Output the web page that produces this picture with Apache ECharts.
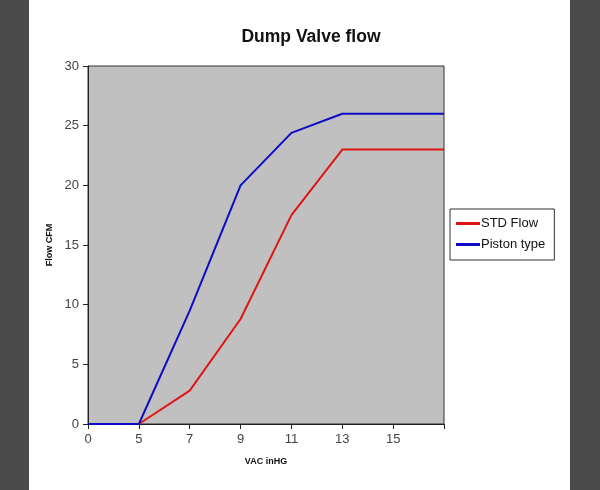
<!DOCTYPE html>
<html>
<head>
<meta charset="utf-8">
<script src="https://cdn.jsdelivr.net/npm/echarts@6/dist/echarts.min.js"></script>
<style>
  html, body { margin: 0; padding: 0; background: #fff; }
  #chart { width: 600px; height: 490px; }
</style>
</head>
<body>
<div id="chart"></div>
<script>
// VAC inHG categories (last slot has no label)
var vacLabels = ['0', '5', '7', '9', '11', '13', '15', ''];
var stdFlow = [0, 0, 2.8, 8.8, 17.5, 23, 23, 23];
var pistonType = [0, 0, 9.5, 20, 24.4, 26, 26, 26];
var yTicks = { min: 0, max: 30, step: 5 };

var chart = echarts.init(document.getElementById('chart'));
var font = 'Arial, "Liberation Sans", sans-serif';

chart.setOption({
  animation: false,
  backgroundColor: '#fff',
  graphic: [
    { type: 'rect', left: 0, top: 0, shape: { width: 29, height: 490 }, style: { fill: '#4a4a4a' }, silent: true },
    { type: 'rect', left: 570, top: 0, shape: { width: 30, height: 490 }, style: { fill: '#4a4a4a' }, silent: true }
  ],
  title: {
    text: 'Dump Valve flow',
    left: 306,
    top: 23,
    textAlign: 'center',
    textStyle: { fontFamily: font, fontSize: 17.5, fontWeight: 'bold', color: '#111' }
  },
  legend: {
    orient: 'vertical',
    left: 450,
    top: 209,
    padding: [8, 9, 9, 6],
    itemGap: 8,
    itemWidth: 24,
    itemHeight: 3,
    icon: 'rect',
    backgroundColor: '#fff',
    borderColor: '#333',
    borderWidth: 1,
    borderRadius: 0,
    textStyle: { fontFamily: font, fontSize: 13, color: '#111', padding: [0, 0, 0, -4] },
    data: ['STD Flow', 'Piston type']
  },
  grid: {
    left: 88,
    right: 156,
    top: 66,
    bottom: 66,
    show: true,
    backgroundColor: '#c0c0c0',
    borderColor: '#333',
    borderWidth: 1
  },
  xAxis: {
    type: 'category',
    data: vacLabels,
    boundaryGap: false,
    name: 'VAC inHG',
    nameLocation: 'middle',
    nameGap: 33,
    nameTextStyle: { fontFamily: font, fontSize: 9, fontWeight: 'bold', color: '#111' },
    axisLine: { lineStyle: { color: '#222', width: 1 } },
    axisTick: { show: true, inside: false, length: 5, interval: 0, lineStyle: { color: '#222' } },
    axisLabel: { interval: 0, margin: 9, fontFamily: font, fontSize: 13, color: '#444' },
    splitLine: { show: false }
  },
  yAxis: {
    type: 'value',
    min: yTicks.min,
    max: yTicks.max,
    interval: yTicks.step,
    name: 'Flow CFM',
    nameLocation: 'middle',
    nameRotate: 90,
    nameGap: 34,
    nameTextStyle: { fontFamily: font, fontSize: 9, fontWeight: 'bold', color: '#111' },
    axisLine: { show: true, lineStyle: { color: '#222', width: 1 } },
    axisTick: { show: true, inside: false, length: 5, lineStyle: { color: '#222' } },
    axisLabel: { margin: 9, fontFamily: font, fontSize: 13, color: '#444' },
    splitLine: { show: false }
  },
  series: [
    {
      name: 'STD Flow',
      type: 'line',
      data: stdFlow,
      showSymbol: false,
      symbol: 'none',
      color: '#e01414',
      lineStyle: { width: 2, color: '#e01414' }
    },
    {
      name: 'Piston type',
      type: 'line',
      data: pistonType,
      showSymbol: false,
      symbol: 'none',
      color: '#0c0cc8',
      lineStyle: { width: 2, color: '#0c0cc8' }
    }
  ]
});
</script>
</body>
</html>
